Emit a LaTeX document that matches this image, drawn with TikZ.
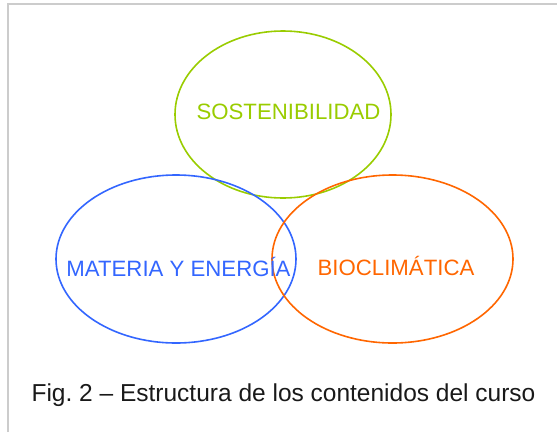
\documentclass[tikz,border=0pt]{standalone}
\usepackage{fontspec}
\setmainfont{Liberation Sans}
\frenchspacing
\definecolor{cgreen}{HTML}{99CC00}
\definecolor{cblue}{HTML}{3366FF}
\definecolor{corange}{HTML}{FF6600}
\definecolor{cframe}{HTML}{CCCCCC}
\begin{document}
\begin{tikzpicture}[x=1pt,y=-1pt,
  ring/.style={line width=1.6pt},
  lbl/.style={font=\fontsize{22.2}{26}\selectfont, inner sep=0pt, anchor=base},
  captiontext/.style={font=\fontsize{24.5}{28}\selectfont, inner sep=0pt, anchor=base, text=black!90}]
\useasboundingbox (0,0) rectangle (557,432);
\coordinate (ftl) at (8,4);
\coordinate (ftr) at (557,4);
\coordinate (fbl) at (8,432);
\draw[cframe, line width=1.5pt] (fbl) -- (ftl) -- (ftr);
\draw[ring, cgreen] (283,114.5) ellipse [x radius=108, y radius=83.5];
\draw[ring, cblue] (176,259) ellipse [x radius=120, y radius=84];
\draw[ring, corange] (392.5,259) ellipse [x radius=120.5, y radius=84];
\node[lbl, text=cgreen] (sost) at (288.5,119.3) {SOSTENIBILIDAD};
\node[lbl, text=cblue] (mat) at (178.5,276) {MATERIA Y ENERGÍA};
\node[lbl, text=corange] (bio) at (396,275.5) {BIOCLIMÁTICA};
\node[captiontext] (fig) at (283.5,401.5) {\frenchspacing Fig. 2 – Estructura de los contenidos del curso};
\end{tikzpicture}
\end{document}
